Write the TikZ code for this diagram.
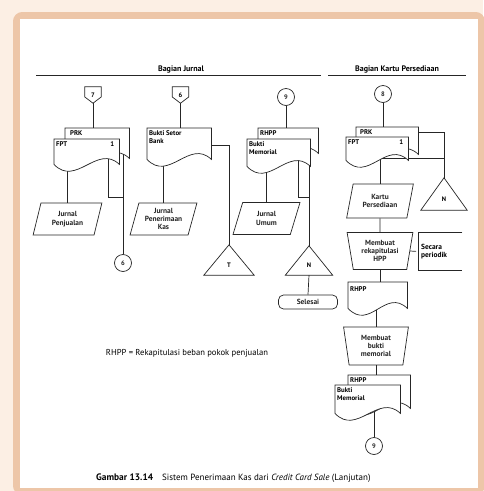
\documentclass[tikz,border=0pt]{standalone}
\usepackage{fontspec}
\setmainfont{PT Sans}
\usetikzlibrary{shapes.geometric}
\definecolor{bgpeach}{HTML}{FCEFE4}
\definecolor{frametan}{HTML}{EDC6A8}

% gaya bagan alir
\tikzset{
  flow/.style={black!85, line width=0.7pt},
  doc/.style={draw=none, inner sep=0pt, anchor=north west},
  doctext/.style={font=\bfseries\fontsize{6.8}{8}\selectfont, anchor=north west, inner sep=2pt, align=left},
  shapetext/.style={font=\bfseries\fontsize{7.4}{8.4}\selectfont, align=center},
  io/.style={trapezium, trapezium left angle=73, trapezium right angle=107, trapezium stretches=true,
    draw, flow, fill=white, minimum width=68, minimum height=32, inner sep=0pt, shapetext},
  manual/.style={trapezium, trapezium left angle=#1, trapezium right angle=#1, shape border rotate=180,
    trapezium stretches=true, draw, flow, fill=white, minimum height=37, inner sep=0pt, shapetext},
  conn/.style={circle, draw, flow, fill=white, minimum size=17, inner sep=0pt, font=\bfseries\fontsize{6.5}{7}\selectfont},
  offpage/.style={minimum width=16, minimum height=16, inner sep=0pt, font=\bfseries\fontsize{6.5}{7}\selectfont},
  tri/.style={inner sep=0pt, text height=14pt, text depth=0pt, font=\bfseries\fontsize{6.5}{7}\selectfont},
  term/.style={draw, flow, fill=white, rounded corners=5pt, minimum width=59, minimum height=14, inner sep=0pt, shapetext},
  hdr/.style={font=\bfseries\fontsize{8}{9}\selectfont, inner sep=1pt},
}
\newcommand{\docline}[1]{%
  \draw[flow, fill=white] (#1.north west) -- (#1.north east) -- (#1.south east)
    .. controls +(-22,-21) and +(22,23) .. (#1.south west) -- cycle;}

\begin{document}
\begin{tikzpicture}[x=1pt, y=-1pt]
    \useasboundingbox (0,0) rectangle (483,491);
    %Latar dan bingkai
    \fill[bgpeach] (0,0) rectangle (483,491);
    \draw[frametan, line width=7pt, rounded corners=6pt] (16.5,15.5) rectangle (481.5,491.5);
    \fill[white] (20,19) rectangle (478,488);

    %Judul bagian
    \draw[flow, line width=0.9pt] (36,75) -- (321,75);
    \draw[flow, line width=0.9pt] (328,75) -- (466,75);
    \node[hdr] (bj) at (181,69.5) {Bagian Jurnal};
    \node[hdr] (bkp) at (397,69.5) {Bagian Kartu Persediaan};

    %Dokumen (tempat)
    \node[doc, minimum width=64, minimum height=30] (prk1) at (65,128) {};
    \node[doc, minimum width=65, minimum height=25] (fpt1) at (54,139) {};
    \node[doc, minimum width=64, minimum height=31] (bss) at (147,128) {};
    \node[doc, minimum width=60, minimum height=25] (rhpp1) at (258,128) {};
    \node[doc, minimum width=63, minimum height=27] (bm1) at (247,139) {};
    \node[doc, minimum width=62, minimum height=27] (prk2) at (356,127) {};
    \node[doc, minimum width=62, minimum height=23] (fpt2) at (346,137) {};
    \node[doc, minimum width=59, minimum height=26] (rhpp2) at (348,282) {};
    \node[doc, minimum width=62, minimum height=33] (rhpp3) at (348,375) {};
    \node[doc, minimum width=65, minimum height=28] (bm2) at (335,385) {};

    %Simbol penghubung
    \node[offpage] (op7) at (93,95) {7};
    \node[offpage] (op6) at (180.5,95) {6};
    \draw[flow] (op7.north west) -- (op7.north east) -- ([yshift=-2pt]op7.east) -- (op7.south) -- ([yshift=-2pt]op7.west) -- cycle;
    \draw[flow] (op6.north west) -- (op6.north east) -- ([yshift=-2pt]op6.east) -- (op6.south) -- ([yshift=-2pt]op6.west) -- cycle;
    \node[conn] (c9a) at (286,97) {9};
    \node[conn] (c8) at (383,94) {8};
    \node[conn] (c6) at (123,263) {6};
    \node[conn] (c9b) at (374,446) {9};

    %Jurnal dan proses
    \node[io, minimum width=69] (jp) at (67.5,219) {Jurnal\\Penjualan};
    \node[io, minimum width=67] (jpk) at (163.5,219) {Jurnal\\Penerimaan\\Kas};
    \node[io, minimum width=67] (ju) at (266.5,218.5) {Jurnal\\Umum};
    \node[io, minimum width=67, minimum height=34] (kp) at (380,201) {Kartu\\Persediaan};
    \node[manual=79, minimum width=66] (mr) at (380,251) {Membuat\\rekapitulasi\\HPP};
    \node[manual=82, minimum width=65, minimum height=38] (mb) at (376,346) {Membuat\\bukti\\memorial};
    \node[term] (sel) at (308,302) {Selesai};

    %Arsip
    \node[tri, minimum width=50, minimum height=30] (trT) at (229,260) {T};
    \node[tri, minimum width=47, minimum height=29] (trN) at (309,260.5) {N};
    \node[tri, minimum width=46, minimum height=32] (trN2) at (444,194) {N};
    \draw[flow] (trT.north) -- (trT.south east) -- (trT.south west) -- cycle;
    \draw[flow] (trN.north) -- (trN.south east) -- (trN.south west) -- cycle;
    \draw[flow] (trN2.north) -- (trN2.south east) -- (trN2.south west) -- cycle;

    %Keterangan
    \node[shapetext, align=left, anchor=west,
      minimum width=44, minimum height=37, inner sep=2pt, text width=38pt] (sp) at (418,251.5) {Secara\\periodik};
    \draw[flow] (sp.north east) -- (sp.north west) -- (sp.south west) -- (sp.south east);
    \draw[flow, dash pattern=on 6pt off 3pt] (mr.east) -- (sp.west);

    %Garis alir
    \draw[flow] (op7.south) -- (op7.south |- prk1.north);
    \draw[flow] (jp.north) -- (jp.north |- fpt1.center);
    \coordinate (j1) at (108,197);
    \coordinate (j2) at (123,197);
    \draw[flow] (j1 |- fpt1.center) -- (j1) -- (j2);
    \draw[flow] (c6.north |- prk1.center) -- (c6.north);

    \draw[flow] (op6.south) -- (op6.south |- bss.north);
    \draw[flow] (jpk.north) -- (jpk.north |- bss.center);
    \coordinate (j3) at (229,145);
    \draw[flow] (bss.center |- j3) -- (j3) -- (trT.north);

    \draw[flow] (c9a.south) -- (c9a.south |- rhpp1.north);
    \draw[flow] (ju.north) -- (ju.north |- bm1.center);
    \coordinate (j4) at (298,197);
    \draw[flow] (j4 |- bm1.center) -- (j4) -- (j4 -| trN.north);
    \draw[flow] (trN.north |- rhpp1.center) -- (trN.north);
    \draw[flow] (trN.south) -- (sel.north);

    \draw[flow] (c8.south) -- (c8.south |- prk2.north);
    \coordinate (j5) at (444,132);
    \coordinate (j6) at (444,158);
    \draw[flow] (prk2.center |- j5) -- (j5) -- (trN2.north);
    \draw[flow] (fpt2.center |- j6) -- (j6);
    \draw[flow] (kp.north) -- (kp.north |- fpt2.center);
    \draw[flow] (kp.south) -- (mr.north);
    \draw[flow] (mr.south) -- (mr.south |- rhpp2.north);
    \draw[flow] (mb.north |- rhpp2.center) -- (mb.north);
    \draw[flow] (mb.south) -- (mb.south |- rhpp3.north);
    \draw[flow] (c9b.north |- bm2.center) -- (c9b.north);

    %Dokumen (garis tepi dan isi)
    \docline{prk1}
    \node[doctext] (prk1t) at ([xshift=3pt]prk1.north west) {PRK};
    \docline{fpt1}
    \node[doctext] (fpt1t) at (fpt1.north west) {FPT};
    \node[doctext, anchor=north east] (fpt1n) at ([xshift=-3pt]fpt1.north east) {1};
    \docline{bss}
    \node[doctext] (bsst) at (bss.north west) {Bukti Setor\\Bank};
    \docline{rhpp1}
    \node[doctext] (rhpp1t) at (rhpp1.north west) {RHPP};
    \docline{bm1}
    \node[doctext] (bm1t) at (bm1.north west) {Bukti\\Memorial};
    \docline{prk2}
    \node[doctext] (prk2t) at ([xshift=2pt]prk2.north west) {PRK};
    \docline{fpt2}
    \node[doctext] (fpt2t) at (fpt2.north west) {FPT};
    \node[doctext, anchor=north east] (fpt2n) at ([xshift=-3pt]fpt2.north east) {1};
    \docline{rhpp2}
    \node[doctext] (rhpp2t) at ([yshift=-2pt]rhpp2.north west) {RHPP};
    \docline{rhpp3}
    \node[doctext] (rhpp3t) at (rhpp3.north west) {RHPP};
    \docline{bm2}
    \node[doctext] (bm2t) at (bm2.north west) {Bukti\\Memorial};

    %Catatan dan judul gambar
    \node[font=\fontsize{8.6}{10}\selectfont, inner sep=0pt] (ket) at (187,353) {RHPP = Rekapitulasi beban pokok penjualan};
    \node[font=\fontsize{9}{10}\selectfont, anchor=west, inner sep=0pt] (cap) at (96,478)
      {{\bfseries\fontsize{9.4}{10}\selectfont Gambar 13.14}\hspace{9pt}Sistem Penerimaan Kas dari \textit{Credit Card Sale} (Lanjutan)};
\end{tikzpicture}
\end{document}
